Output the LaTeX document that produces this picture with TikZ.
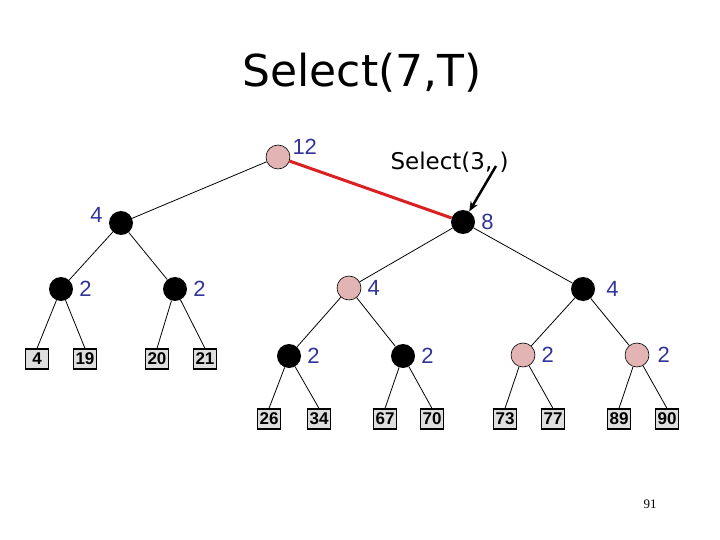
\documentclass[tikz,border=0pt]{standalone}
\usepackage{fontspec}
\setmainfont{Liberation Sans}
\newfontfamily\handfont{DejaVu Sans}
\newfontfamily\pagefont{Liberation Serif}
\usepackage{xcolor}
\usetikzlibrary{arrows.meta}

\definecolor{numblue}{RGB}{51,51,153}
\definecolor{pathred}{RGB}{218,32,32}
\definecolor{dotpink}{RGB}{226,180,180}
\definecolor{leafgray}{RGB}{222,222,222}

\begin{document}
\begin{tikzpicture}[
    x=1pt, y=-1pt,
    full/.style={circle, fill=black, minimum size=24pt, inner sep=0pt},
    marked/.style={circle, draw, fill=dotpink, minimum size=24pt, inner sep=0pt, line width=0.6pt},
    leaf/.style={draw, fill=leafgray, minimum width=23pt, minimum height=20pt, inner sep=0pt, line width=1.2pt, font=\fontsize{17}{17}\selectfont\bfseries},
    edge/.style={line width=0.8pt},
    num/.style={text=numblue, inner sep=0pt, font=\fontsize{22}{22}\selectfont},
    label distance=6pt
]
\useasboundingbox (0,0) rectangle (720,540);

% Title
\node[anchor=base, font=\handfont\fontsize{44}{44}\selectfont] (title) at (362,87) {Select(7,T)};

% Root and first level
\node[marked, label={[num, label distance=2pt, yshift=10pt]right:12}] (root) at (278,157) {};
\node[full, label={[num, yshift=8pt]left:4}] (nL) at (121,223) {};
\node[full, label={[num]right:8}] (nR) at (463,222) {};

% Second level
\node[full, label={[num]right:2}] (nLL) at (61,289) {};
\node[full, label={[num]right:2}] (nLR) at (175,289) {};
\node[marked, label={[num]right:4}] (nRL) at (349,288) {};
\node[full, label={[num, label distance=11pt]right:4}] (nRR) at (583,289) {};

% Third level
\node[full, label={[num]right:2}] (nRLL) at (289,356) {};
\node[full, label={[num]right:2}] (nRLR) at (403,356) {};
\node[marked, label={[num]right:2}] (nRRL) at (523,355) {};
\node[marked, label={[num, label distance=8pt]right:2}] (nRRR) at (637,355) {};

% Leaves
\node[leaf] (l4) at (37,359) {4};
\node[leaf] (l19) at (85,359) {19};
\node[leaf] (l20) at (157,359) {20};
\node[leaf] (l21) at (205,359) {21};
\node[leaf] (l26) at (269,419) {26};
\node[leaf] (l34) at (319,419) {34};
\node[leaf] (l67) at (385,419) {67};
\node[leaf] (l70) at (432,419) {70};
\node[leaf] (l73) at (505,419) {73};
\node[leaf] (l77) at (553,419) {77};
\node[leaf] (l89) at (619,419) {89};
\node[leaf] (l90) at (667,419) {90};

% Tree edges
\draw[edge] (root) -- (nL);
\draw[edge] (nL) -- (nLL);
\draw[edge] (nL) -- (nLR);
\draw[edge] (nR) -- (nRL);
\draw[edge] (nR) -- (nRR);
\draw[edge] (nRL) -- (nRLL);
\draw[edge] (nRL) -- (nRLR);
\draw[edge] (nRR) -- (nRRL);
\draw[edge] (nRR) -- (nRRR);
\draw[edge] (nLL) -- (l4.north);
\draw[edge] (nLL) -- (l19.north);
\draw[edge] (nLR) -- (l20.north);
\draw[edge] (nLR) -- (l21.north);
\draw[edge] (nRLL) -- (l26.north);
\draw[edge] (nRLL) -- (l34.north);
\draw[edge] (nRLR) -- (l67.north);
\draw[edge] (nRLR) -- (l70.north);
\draw[edge] (nRRL) -- (l73.north);
\draw[edge] (nRRL) -- (l77.north);
\draw[edge] (nRRR) -- (l89.north);
\draw[edge] (nRRR) -- (l90.north);

% Search path
\draw[line width=3pt, pathred] (root) -- (nR);

% Recursive call
\node[anchor=base west, font=\handfont\fontsize{23}{23}\selectfont] (sel) at (387,170) {Select(3, )};
\coordinate (selTail) at (496,166);
\draw[line width=2.5pt, -{Stealth[length=10pt, width=8pt]}] (selTail) -- (nR);

% Page number
\node[font=\pagefont\fontsize{13}{13}\selectfont] (pagenum) at (650,504) {91};

\end{tikzpicture}
\end{document}
